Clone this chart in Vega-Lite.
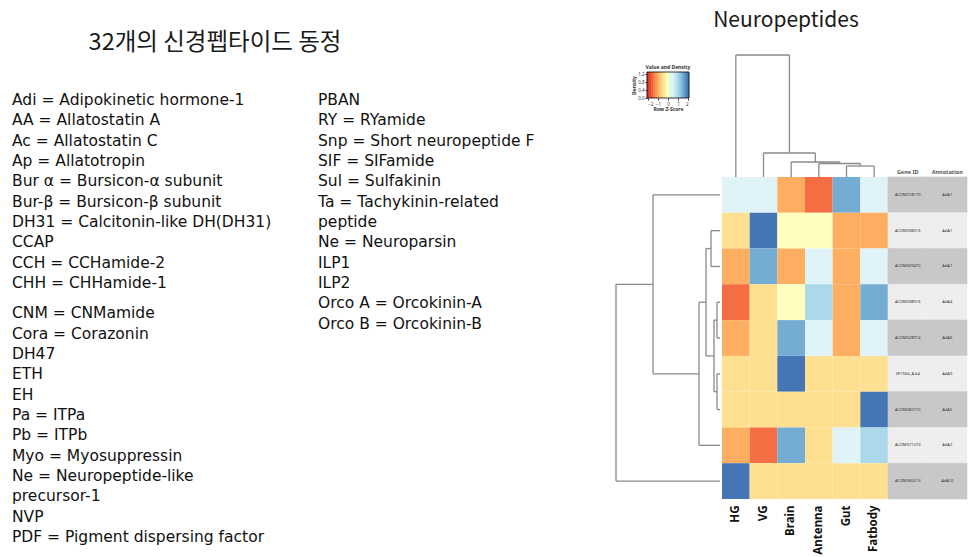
{
  "$schema": "https://vega.github.io/schema/vega-lite/v6.json",
  "width": 969,
  "height": 557,
  "autosize": "none",
  "padding": 0,
  "background": "white",
  "config": {"view": {"stroke": null}, "font": "Noto Sans CJK KR"},
  "datasets": {
    "headings": [
      {"text": "32개의 신경펩타이드 동정", "panel": "list"},
      {"text": "Neuropeptides", "panel": "heatmap"}
    ],
    "list": [
      {"text": "Adi = Adipokinetic hormone-1", "col": 0, "line": 0},
      {"text": "AA = Allatostatin A", "col": 0, "line": 1},
      {"text": "Ac = Allatostatin C", "col": 0, "line": 2},
      {"text": "Ap = Allatotropin", "col": 0, "line": 3},
      {"text": "Bur α = Bursicon-α subunit", "col": 0, "line": 4},
      {"text": "Bur-β = Bursicon-β subunit", "col": 0, "line": 5},
      {"text": "DH31 = Calcitonin-like DH(DH31)", "col": 0, "line": 6},
      {"text": "CCAP", "col": 0, "line": 7},
      {"text": "CCH = CCHamide-2", "col": 0, "line": 8},
      {"text": "CHH = CHHamide-1", "col": 0, "line": 9},
      {"text": "CNM = CNMamide", "col": 0, "line": 10.5},
      {"text": "Cora = Corazonin", "col": 0, "line": 11.5},
      {"text": "DH47", "col": 0, "line": 12.5},
      {"text": "ETH", "col": 0, "line": 13.5},
      {"text": "EH", "col": 0, "line": 14.5},
      {"text": "Pa = ITPa", "col": 0, "line": 15.5},
      {"text": "Pb = ITPb", "col": 0, "line": 16.5},
      {"text": "Myo = Myosuppressin", "col": 0, "line": 17.5},
      {"text": "Ne = Neuropeptide-like", "col": 0, "line": 18.5},
      {"text": "precursor-1", "col": 0, "line": 19.5},
      {"text": "NVP", "col": 0, "line": 20.5},
      {"text": "PDF = Pigment dispersing factor", "col": 0, "line": 21.5},
      {"text": "PBAN", "col": 1, "line": 0},
      {"text": "RY = RYamide", "col": 1, "line": 1},
      {"text": "Snp = Short neuropeptide F", "col": 1, "line": 2},
      {"text": "SIF = SIFamide", "col": 1, "line": 3},
      {"text": "Sul = Sulfakinin", "col": 1, "line": 4},
      {"text": "Ta = Tachykinin-related", "col": 1, "line": 5},
      {"text": "peptide", "col": 1, "line": 6},
      {"text": "Ne = Neuroparsin", "col": 1, "line": 7},
      {"text": "ILP1", "col": 1, "line": 8},
      {"text": "ILP2", "col": 1, "line": 9},
      {"text": "Orco A = Orcokinin-A", "col": 1, "line": 10},
      {"text": "Orco B = Orcokinin-B", "col": 1, "line": 11}
    ],
    "heat": [
      {"gene": "ACOM018170", "tissue": "HG", "z": 0.45},
      {"gene": "ACOM018170", "tissue": "VG", "z": 0.5},
      {"gene": "ACOM018170", "tissue": "Brain", "z": -0.95},
      {"gene": "ACOM018170", "tissue": "Antenna", "z": -1.45},
      {"gene": "ACOM018170", "tissue": "Gut", "z": 1.3},
      {"gene": "ACOM018170", "tissue": "Fatbody", "z": 0.4},
      {"gene": "ACOM038016", "tissue": "HG", "z": -0.5},
      {"gene": "ACOM038016", "tissue": "VG", "z": 2.0},
      {"gene": "ACOM038016", "tissue": "Brain", "z": 0.1},
      {"gene": "ACOM038016", "tissue": "Antenna", "z": 0.05},
      {"gene": "ACOM038016", "tissue": "Gut", "z": -0.85},
      {"gene": "ACOM038016", "tissue": "Fatbody", "z": -0.8},
      {"gene": "ACOM009470", "tissue": "HG", "z": -0.9},
      {"gene": "ACOM009470", "tissue": "VG", "z": 1.5},
      {"gene": "ACOM009470", "tissue": "Brain", "z": -0.9},
      {"gene": "ACOM009470", "tissue": "Antenna", "z": 0.5},
      {"gene": "ACOM009470", "tissue": "Gut", "z": -0.95},
      {"gene": "ACOM009470", "tissue": "Fatbody", "z": 0.6},
      {"gene": "ACOM038916", "tissue": "HG", "z": -1.5},
      {"gene": "ACOM038916", "tissue": "VG", "z": -0.4},
      {"gene": "ACOM038916", "tissue": "Brain", "z": 0.0},
      {"gene": "ACOM038916", "tissue": "Antenna", "z": 1.0},
      {"gene": "ACOM038916", "tissue": "Gut", "z": -0.85},
      {"gene": "ACOM038916", "tissue": "Fatbody", "z": 1.4},
      {"gene": "ACOM028974", "tissue": "HG", "z": -0.9},
      {"gene": "ACOM028974", "tissue": "VG", "z": -0.45},
      {"gene": "ACOM028974", "tissue": "Brain", "z": 1.45},
      {"gene": "ACOM028974", "tissue": "Antenna", "z": 0.5},
      {"gene": "ACOM028974", "tissue": "Gut", "z": -0.9},
      {"gene": "ACOM028974", "tissue": "Fatbody", "z": 0.45},
      {"gene": "XP1564_A.b4", "tissue": "HG", "z": -0.41},
      {"gene": "XP1564_A.b4", "tissue": "VG", "z": -0.41},
      {"gene": "XP1564_A.b4", "tissue": "Brain", "z": 2.04},
      {"gene": "XP1564_A.b4", "tissue": "Antenna", "z": -0.41},
      {"gene": "XP1564_A.b4", "tissue": "Gut", "z": -0.41},
      {"gene": "XP1564_A.b4", "tissue": "Fatbody", "z": -0.41},
      {"gene": "ACOM082770", "tissue": "HG", "z": -0.41},
      {"gene": "ACOM082770", "tissue": "VG", "z": -0.41},
      {"gene": "ACOM082770", "tissue": "Brain", "z": -0.41},
      {"gene": "ACOM082770", "tissue": "Antenna", "z": -0.41},
      {"gene": "ACOM082770", "tissue": "Gut", "z": -0.41},
      {"gene": "ACOM082770", "tissue": "Fatbody", "z": 2.04},
      {"gene": "ACOM071270", "tissue": "HG", "z": -0.95},
      {"gene": "ACOM071270", "tissue": "VG", "z": -1.5},
      {"gene": "ACOM071270", "tissue": "Brain", "z": 1.4},
      {"gene": "ACOM071270", "tissue": "Antenna", "z": -0.3},
      {"gene": "ACOM071270", "tissue": "Gut", "z": 0.55},
      {"gene": "ACOM071270", "tissue": "Fatbody", "z": 0.95},
      {"gene": "ACOM060213", "tissue": "HG", "z": 2.04},
      {"gene": "ACOM060213", "tissue": "VG", "z": -0.41},
      {"gene": "ACOM060213", "tissue": "Brain", "z": -0.41},
      {"gene": "ACOM060213", "tissue": "Antenna", "z": -0.41},
      {"gene": "ACOM060213", "tissue": "Gut", "z": -0.41},
      {"gene": "ACOM060213", "tissue": "Fatbody", "z": -0.41}
    ],
    "table": [
      {"gene": "ACOM018170", "col": "Gene ID", "label": "ACOM018170"},
      {"gene": "ACOM018170", "col": "Annotation", "label": "AdA7"},
      {"gene": "ACOM038016", "col": "Gene ID", "label": "ACOM038016"},
      {"gene": "ACOM038016", "col": "Annotation", "label": "AdA1"},
      {"gene": "ACOM009470", "col": "Gene ID", "label": "ACOM009470"},
      {"gene": "ACOM009470", "col": "Annotation", "label": "AdA7"},
      {"gene": "ACOM038916", "col": "Gene ID", "label": "ACOM038916"},
      {"gene": "ACOM038916", "col": "Annotation", "label": "AdA4"},
      {"gene": "ACOM028974", "col": "Gene ID", "label": "ACOM028974"},
      {"gene": "ACOM028974", "col": "Annotation", "label": "AdA6"},
      {"gene": "XP1564_A.b4", "col": "Gene ID", "label": "XP1564_A.b4"},
      {"gene": "XP1564_A.b4", "col": "Annotation", "label": "AdA9"},
      {"gene": "ACOM082770", "col": "Gene ID", "label": "ACOM082770"},
      {"gene": "ACOM082770", "col": "Annotation", "label": "AdA5"},
      {"gene": "ACOM071270", "col": "Gene ID", "label": "ACOM071270"},
      {"gene": "ACOM071270", "col": "Annotation", "label": "AdA2"},
      {"gene": "ACOM060213", "col": "Gene ID", "label": "ACOM060213"},
      {"gene": "ACOM060213", "col": "Annotation", "label": "AdA10"}
    ],
    "rowDend": [
      {"h1": 3, "h2": 3, "p1": 3.5, "p2": 4.5},
      {"h1": 0, "h2": 3, "p1": 3.5, "p2": 3.5},
      {"h1": 0, "h2": 3, "p1": 4.5, "p2": 4.5},
      {"h1": 3, "h2": 3, "p1": 5.5, "p2": 6.5},
      {"h1": 0, "h2": 3, "p1": 5.5, "p2": 5.5},
      {"h1": 0, "h2": 3, "p1": 6.5, "p2": 6.5},
      {"h1": 6, "h2": 6, "p1": 4, "p2": 6},
      {"h1": 3, "h2": 6, "p1": 4, "p2": 4},
      {"h1": 3, "h2": 6, "p1": 6, "p2": 6},
      {"h1": 9, "h2": 9, "p1": 1.5, "p2": 2.5},
      {"h1": 0, "h2": 9, "p1": 1.5, "p2": 1.5},
      {"h1": 0, "h2": 9, "p1": 2.5, "p2": 2.5},
      {"h1": 14, "h2": 14, "p1": 2, "p2": 5},
      {"h1": 9, "h2": 14, "p1": 2, "p2": 2},
      {"h1": 6, "h2": 14, "p1": 5, "p2": 5},
      {"h1": 21, "h2": 21, "p1": 3.5, "p2": 7.5},
      {"h1": 14, "h2": 21, "p1": 3.5, "p2": 3.5},
      {"h1": 0, "h2": 21, "p1": 7.5, "p2": 7.5},
      {"h1": 67, "h2": 67, "p1": 0.5, "p2": 5.5},
      {"h1": 0, "h2": 67, "p1": 0.5, "p2": 0.5},
      {"h1": 21, "h2": 67, "p1": 5.5, "p2": 5.5},
      {"h1": 104, "h2": 104, "p1": 3, "p2": 8.5},
      {"h1": 67, "h2": 104, "p1": 3, "p2": 3},
      {"h1": 0, "h2": 104, "p1": 8.5, "p2": 8.5}
    ],
    "colDend": [
      {"p1": 4.5, "p2": 5.5, "h1": 11, "h2": 11},
      {"p1": 4.5, "p2": 4.5, "h1": 0, "h2": 11},
      {"p1": 5.5, "p2": 5.5, "h1": 0, "h2": 11},
      {"p1": 3.5, "p2": 5, "h1": 13.5, "h2": 13.5},
      {"p1": 3.5, "p2": 3.5, "h1": 0, "h2": 13.5},
      {"p1": 5, "p2": 5, "h1": 11, "h2": 13.5},
      {"p1": 2.5, "p2": 4.25, "h1": 15, "h2": 15},
      {"p1": 2.5, "p2": 2.5, "h1": 0, "h2": 15},
      {"p1": 4.25, "p2": 4.25, "h1": 13.5, "h2": 15},
      {"p1": 1.5, "p2": 3.375, "h1": 24, "h2": 24},
      {"p1": 1.5, "p2": 1.5, "h1": 0, "h2": 24},
      {"p1": 3.375, "p2": 3.375, "h1": 15, "h2": 24},
      {"p1": 0.5, "p2": 2.4375, "h1": 122, "h2": 122},
      {"p1": 0.5, "p2": 0.5, "h1": 0, "h2": 122},
      {"p1": 2.4375, "p2": 2.4375, "h1": 24, "h2": 122}
    ],
    "ramp": [
      {"z": -2.0}, {"z": -1.8}, {"z": -1.6}, {"z": -1.4}, {"z": -1.2},
      {"z": -1.0}, {"z": -0.8}, {"z": -0.6}, {"z": -0.4}, {"z": -0.2},
      {"z": 0.0}, {"z": 0.2}, {"z": 0.4}, {"z": 0.6}, {"z": 0.8},
      {"z": 1.0}, {"z": 1.2}, {"z": 1.4}, {"z": 1.6}, {"z": 1.8}, {"z": 2.0}
    ],
    "legendTitle": [{"label": "Value and Density"}]
  },
  "resolve": {
    "scale": {"x": "independent", "y": "independent", "color": "independent", "fill": "independent", "stroke": "independent", "size": "independent"},
    "axis": {"x": "independent", "y": "independent"}
  },
  "layer": [
    {
      "data": {"name": "headings"},
      "mark": {"type": "text", "color": "#1a1a1a", "font": "Noto Sans CJK KR"},
      "encoding": {
        "x": {"field": "panel", "type": "nominal", "scale": {"type": "point", "domain": ["list", "heatmap"], "range": [215, 786], "padding": 0}, "axis": null},
        "y": {"field": "panel", "type": "nominal", "scale": {"type": "point", "domain": ["list", "heatmap"], "range": [43, 21], "padding": 0}, "axis": null},
        "size": {"field": "panel", "type": "ordinal", "scale": {"domain": ["list", "heatmap"], "range": [23.5, 21]}, "legend": null},
        "text": {"field": "text"}
      }
    },
    {
      "data": {"name": "list"},
      "mark": {"type": "text", "align": "left", "baseline": "middle", "fontSize": 15.5, "color": "#111111", "font": "DejaVu Sans"},
      "encoding": {
        "x": {"field": "col", "type": "quantitative", "scale": {"domain": [0, 1], "range": [12, 318], "nice": false, "zero": false}, "axis": null},
        "y": {"field": "line", "type": "quantitative", "scale": {"domain": [0, 21.5], "range": [100, 537], "nice": false, "zero": false}, "axis": null},
        "text": {"field": "text"}
      }
    },
    {
      "data": {"name": "heat"},
      "mark": {"type": "rect"},
      "encoding": {
        "x": {"field": "tissue", "type": "nominal", "scale": {"type": "band", "domain": ["HG", "VG", "Brain", "Antenna", "Gut", "Fatbody"], "range": [722, 888], "paddingInner": 0, "paddingOuter": 0},
          "axis": {"orient": "bottom", "offset": -58, "title": null, "domain": false, "ticks": false, "labelAngle": 270, "labelAlign": "right", "labelBaseline": "middle", "labelPadding": 6, "labelFontSize": 11.5, "labelFontWeight": "bold", "labelColor": "#111111", "labelFont": "Noto Sans"}},
        "y": {"field": "gene", "type": "nominal", "scale": {"type": "band", "domain": ["ACOM018170", "ACOM038016", "ACOM009470", "ACOM038916", "ACOM028974", "XP1564_A.b4", "ACOM082770", "ACOM071270", "ACOM060213"], "range": [177, 499], "paddingInner": 0, "paddingOuter": 0}, "axis": null},
        "color": {"field": "z", "type": "quantitative", "scale": {"type": "threshold", "domain": [-1.75, -1.25, -0.75, -0.25, 0.25, 0.75, 1.25, 1.75], "range": ["#d73027", "#f46d43", "#fdae61", "#fee090", "#ffffbf", "#e0f3f8", "#abd9e9", "#74add1", "#4575b4"]}, "legend": null}
      }
    },
    {
      "data": {"name": "table"},
      "encoding": {
        "x": {"field": "col", "type": "nominal", "scale": {"type": "band", "domain": ["Gene ID", "Annotation"], "range": [888, 967], "paddingInner": 0, "paddingOuter": 0},
          "axis": {"orient": "top", "offset": -175, "title": null, "domain": false, "ticks": false, "labelPadding": 1, "labelFontSize": 5.5, "labelFontWeight": "bold", "labelColor": "#555555", "labelFont": "Noto Sans", "labelAngle": 0}},
        "y": {"field": "gene", "type": "nominal", "scale": {"type": "band", "domain": ["ACOM018170", "ACOM038016", "ACOM009470", "ACOM038916", "ACOM028974", "XP1564_A.b4", "ACOM082770", "ACOM071270", "ACOM060213"], "range": [177, 499], "paddingInner": 0, "paddingOuter": 0}, "axis": null}
      },
      "layer": [
        {
          "mark": {"type": "rect", "strokeWidth": 0.6},
          "encoding": {
            "fill": {"field": "gene", "type": "nominal", "scale": {"domain": ["ACOM018170", "ACOM038016", "ACOM009470", "ACOM038916", "ACOM028974", "XP1564_A.b4", "ACOM082770", "ACOM071270", "ACOM060213"], "range": ["#c8c8c8", "#eeeeee", "#c8c8c8", "#eeeeee", "#c8c8c8", "#eeeeee", "#c8c8c8", "#eeeeee", "#c8c8c8"]}, "legend": null},
            "stroke": {"field": "gene", "type": "nominal", "scale": {"domain": ["ACOM018170", "ACOM038016", "ACOM009470", "ACOM038916", "ACOM028974", "XP1564_A.b4", "ACOM082770", "ACOM071270", "ACOM060213"], "range": ["#c8c8c8", "#eeeeee", "#c8c8c8", "#eeeeee", "#c8c8c8", "#eeeeee", "#c8c8c8", "#eeeeee", "#c8c8c8"]}, "legend": null}
          }
        },
        {
          "mark": {"type": "text", "fontSize": 4, "color": "#333333", "font": "Noto Sans"},
          "encoding": {"text": {"field": "label"}}
        }
      ]
    },
    {
      "data": {"name": "rowDend"},
      "mark": {"type": "rule", "color": "#8a8a8a", "strokeWidth": 1.3},
      "encoding": {
        "x": {"field": "h1", "type": "quantitative", "scale": {"domain": [0, 104], "range": [720, 616], "nice": false, "zero": false}, "axis": null},
        "x2": {"field": "h2"},
        "y": {"field": "p1", "type": "quantitative", "scale": {"domain": [0, 9], "range": [177, 499], "nice": false, "zero": false}, "axis": null},
        "y2": {"field": "p2"}
      }
    },
    {
      "data": {"name": "colDend"},
      "mark": {"type": "rule", "color": "#8a8a8a", "strokeWidth": 1.3},
      "encoding": {
        "x": {"field": "p1", "type": "quantitative", "scale": {"domain": [0, 6], "range": [722, 888], "nice": false, "zero": false}, "axis": null},
        "x2": {"field": "p2"},
        "y": {"field": "h1", "type": "quantitative", "scale": {"domain": [0, 122], "range": [177, 55], "nice": false, "zero": false}, "axis": null},
        "y2": {"field": "h2"}
      }
    },
    {
      "encoding": {
        "x": {"type": "quantitative", "scale": {"domain": [-2.1, 2.1], "range": [647, 689], "nice": false, "zero": false}},
        "y": {"type": "quantitative", "scale": {"domain": [0, 1.3], "range": [98, 72], "nice": false, "zero": false}}
      },
      "layer": [
        {
          "data": {"name": "ramp"},
          "mark": {"type": "rule", "strokeWidth": 2.2},
          "encoding": {
            "x": {"field": "z", "type": "quantitative",
              "axis": {"orient": "bottom", "offset": -459, "values": [-2, -1, 0, 1, 2], "format": "d", "title": "Row Z-Score", "titleFontSize": 5, "titleFontWeight": "bold", "titlePadding": 1, "titleColor": "#333333", "labelFontSize": 4.5, "labelColor": "#333333", "labelPadding": 1, "tickSize": 2, "tickColor": "#333333", "domain": false, "grid": false, "labelFont": "Noto Sans", "titleFont": "Noto Sans"}},
            "y": {"datum": 0, "type": "quantitative",
              "axis": {"orient": "left", "offset": -647, "values": [0, 0.4, 0.8, 1.2], "format": ".1f", "title": "Density", "titleFontSize": 5, "titleFontWeight": "bold", "titlePadding": 1, "titleColor": "#333333", "labelFontSize": 4.5, "labelColor": "#333333", "labelPadding": 1, "tickSize": 2, "tickColor": "#333333", "domain": false, "grid": false, "labelFont": "Noto Sans", "titleFont": "Noto Sans"}},
            "y2": {"datum": 1.3},
            "color": {"field": "z", "type": "quantitative", "scale": {"domain": [-2, -1.5, -1, -0.5, 0, 0.5, 1, 1.5, 2], "range": ["#d73027", "#f46d43", "#fdae61", "#fee090", "#ffffbf", "#e0f3f8", "#abd9e9", "#74add1", "#4575b4"]}, "legend": null}
          }
        },
        {
          "data": {"name": "legendTitle"},
          "mark": {"type": "rect", "filled": false, "stroke": "#000000", "strokeWidth": 0.8},
          "encoding": {
            "x": {"datum": -2.1, "type": "quantitative"},
            "x2": {"datum": 2.1},
            "y": {"datum": 0, "type": "quantitative"},
            "y2": {"datum": 1.3}
          }
        },
        {
          "data": {"name": "legendTitle"},
          "mark": {"type": "text", "fontSize": 5, "fontWeight": "bold", "color": "#333333", "font": "Noto Sans"},
          "encoding": {
            "x": {"datum": 0, "type": "quantitative"},
            "y": {"datum": 1.55, "type": "quantitative"},
            "text": {"field": "label"}
          }
        }
      ]
    }
  ]
}
